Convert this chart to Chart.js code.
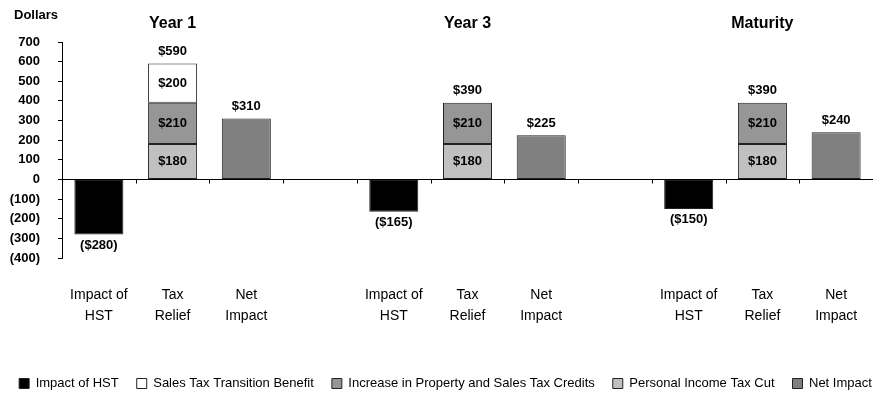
<!DOCTYPE html>
<html>
<head>
<meta charset="utf-8">
<script src="https://cdn.jsdelivr.net/npm/chart.js@4.4.1/dist/chart.umd.min.js"></script>
<style>
  html, body { margin: 0; padding: 0; background: #fff; }
  #wrap { width: 891px; height: 400px; }
</style>
</head>
<body>
<div id="wrap"><canvas id="hstChart"></canvas></div>
<script>
// --- data ---
const categories = [
  ['Impact of', 'HST'], ['Tax', 'Relief'], ['Net', 'Impact'], '',
  ['Impact of', 'HST'], ['Tax', 'Relief'], ['Net', 'Impact'], '',
  ['Impact of', 'HST'], ['Tax', 'Relief'], ['Net', 'Impact']
];
const groupTitles = ['', 'Year 1', '', '', '', 'Year 3', '', '', '', 'Maturity', ''];

const impactOfHST        = [-280, null, null, null, -165, null, null, null, -150, null, null];
const salesTaxTransition = [null, 200, null, null, null, null, null, null, null, null, null];
const propertyCredits    = [null, 210, null, null, null, 210, null, null, null, 210, null];
const incomeTaxCut       = [null, 180, null, null, null, 180, null, null, null, 180, null];
const netImpact          = [null, null, 310, null, null, null, 225, null, null, null, 240];

const yMin = -400, yMax = 700, yStep = 100;

const FONT = "'Liberation Sans', Arial, sans-serif";

function money(v) {
  return v < 0 ? '($' + Math.abs(v) + ')' : '$' + v;
}

// valeurs sur les barres (pas de plugin datalabels dispo)
const valueLabels = {
  id: 'valueLabels',
  afterDatasetsDraw(chart) {
    const ctx = chart.ctx;
    ctx.save();
    ctx.font = 'bold 13px ' + FONT;
    ctx.fillStyle = '#000';
    ctx.textAlign = 'center';
    ctx.textBaseline = 'middle';
    for (let i = 0; i < categories.length; i++) {
      const parts = [];
      chart.data.datasets.forEach((ds, di) => {
        const v = ds.data[i];
        if (v === null || v === undefined) return;
        parts.push({ v: v, el: chart.getDatasetMeta(di).data[i] });
      });
      if (!parts.length) continue;
      if (parts.length > 1) {
        let total = 0, top = Infinity, x = 0;
        parts.forEach(p => {
          ctx.fillText(money(p.v), p.el.x, (p.el.y + p.el.base) / 2);
          total += p.v;
          top = Math.min(top, p.el.y);
          x = p.el.x;
        });
        ctx.fillText(money(total), x, top - 12);
      } else {
        const p = parts[0];
        ctx.fillText(money(p.v), p.el.x, p.v < 0 ? p.el.y + 11 : p.el.y - 12);
      }
    }
    ctx.restore();
  }
};

// petits traits sous la ligne zéro + "Dollars"
const axisExtras = {
  id: 'axisExtras',
  afterDraw(chart) {
    const ctx = chart.ctx;
    const x = chart.scales.x, y = chart.scales.y;
    const y0 = Math.round(y.getPixelForValue(0)) + 0.5;
    const step = x.width / categories.length;
    ctx.save();
    ctx.strokeStyle = '#000';
    ctx.lineWidth = 1;
    ctx.beginPath();
    for (let k = 1; k < categories.length; k++) {
      const px = Math.round(x.left + k * step) + 0.5;
      ctx.moveTo(px, y0);
      ctx.lineTo(px, y0 + 4);
    }
    ctx.stroke();
    ctx.font = 'bold 13px ' + FONT;
    ctx.fillStyle = '#000';
    ctx.textAlign = 'left';
    ctx.textBaseline = 'middle';
    ctx.fillText('Dollars', 14, 15);
    ctx.restore();
  }
};

const barStyle = { borderColor: '#222', borderWidth: 1, borderSkipped: false };

new Chart(document.getElementById('hstChart'), {
  type: 'bar',
  data: {
    labels: categories,
    datasets: [
      { label: 'Impact of HST', data: impactOfHST, backgroundColor: '#000', order: 0, ...barStyle },
      { label: 'Sales Tax Transition Benefit', data: salesTaxTransition, backgroundColor: '#fff', order: 3, ...barStyle },
      { label: 'Increase in Property and Sales Tax Credits', data: propertyCredits, backgroundColor: '#969696', order: 2, ...barStyle },
      { label: 'Personal Income Tax Cut', data: incomeTaxCut, backgroundColor: '#c0c0c0', order: 1, ...barStyle },
      { label: 'Net Impact', data: netImpact, backgroundColor: '#808080', order: 4, ...barStyle }
    ]
  },
  options: {
    responsive: true,
    maintainAspectRatio: false,
    animation: false,
    layout: { padding: 0 },
    datasets: { bar: { categoryPercentage: 1, barPercentage: 0.665 } },
    plugins: {
      tooltip: { enabled: false },
      title: { display: false },
      legend: {
        position: 'bottom',
        labels: {
          font: { family: FONT, size: 13 },
          color: '#000',
          boxWidth: 10,
          boxHeight: 10,
          padding: 18,
          sort: (a, b) => a.datasetIndex - b.datasetIndex
        }
      }
    },
    scales: {
      x: {
        type: 'category',
        stacked: true,
        offset: true,
        grid: { display: false, drawTicks: false },
        border: { display: false },
        ticks: {
          autoSkip: false,
          maxRotation: 0,
          padding: 26,
          color: '#000',
          font: { family: FONT, size: 14, lineHeight: 1.55 }
        },
        afterFit: (s) => { s.height = 101; }
      },
      x2: {
        type: 'category',
        labels: groupTitles,
        position: 'top',
        offset: true,
        grid: { display: false, drawTicks: false },
        border: { display: false },
        ticks: {
          autoSkip: false,
          maxRotation: 0,
          padding: 9,
          color: '#000',
          font: { family: FONT, size: 16, weight: 'bold', lineHeight: 1.2 }
        },
        afterFit: (s) => { s.height = 42; }
      },
      y: {
        stacked: true,
        min: yMin,
        max: yMax,
        ticks: {
          stepSize: yStep,
          autoSkip: false,
          padding: 18,
          color: '#000',
          font: { family: FONT, size: 13, weight: 'bold' },
          callback: (v) => v < 0 ? '(' + Math.abs(v) + ')' : String(v)
        },
        grid: {
          color: (c) => c.tick && c.tick.value === 0 ? '#000' : 'rgba(0,0,0,0)',
          tickColor: '#000',
          drawTicks: true,
          tickLength: 4
        },
        border: { display: true, color: '#000' },
        afterFit: (s) => { s.width = 62; }
      },
      yRight: {
        position: 'right',
        display: true,
        grid: { display: false, drawTicks: false },
        border: { display: false },
        ticks: { display: false },
        afterFit: (s) => { s.width = 18; }
      }
    }
  },
  plugins: [valueLabels, axisExtras]
});
</script>
</body>
</html>
